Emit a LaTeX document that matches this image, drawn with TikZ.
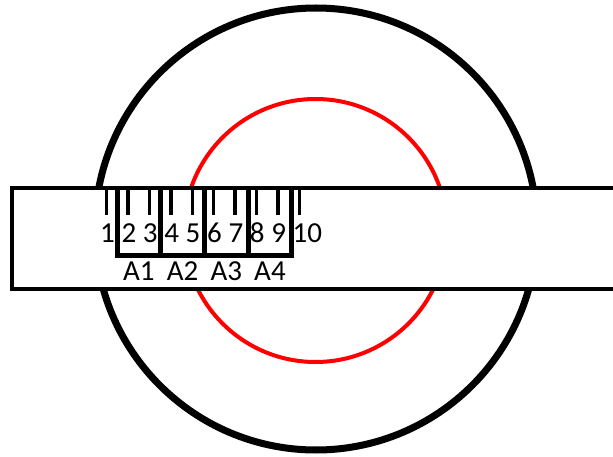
\documentclass[tikz,border=0pt]{standalone}
\usepackage{fontspec}
\setmainfont{Carlito}
\usetikzlibrary{positioning,calc}

\begin{document}
\begin{tikzpicture}[x=1pt, y=-1pt,
  ring/.style={draw, line width=7pt},
  inner ring/.style={draw=red, line width=4pt},
  bar/.style={draw, line width=4.5pt, fill=white},
  tickmark/.style={line width=3.5pt},
  bracket/.style={line width=5pt},
  num/.style={font=\fontsize{29}{29}\selectfont, inner sep=0pt}
]
\useasboundingbox (0,0) rectangle (613,457);
\clip (0,0) rectangle (613,457);
% circles behind the strip
\draw[ring] (316,229) circle (221pt);
\draw[inner ring] (315.5,230.5) circle (131.5pt);
% strip
\draw[bar] (12,188) rectangle (640,289);
% scale ticks and numbers
\foreach \i in {1,...,10} {
  \pgfmathsetmacro\tx{106.7+(\i-1)*21.4}
  \coordinate (t\i) at (\tx,188);
  \draw[tickmark] (t\i) -- ++(0,27);
  \node[num, anchor=west] (n\i) at (\tx-6.8,233) {\i};
}
% brackets A1..A4
\foreach \k in {0,...,4}
  \coordinate (e\k) at (117+43.7*\k,188);
\draw[bracket] (e0) |- ([yshift=-67pt]e4) -- (e4);
\foreach \k in {1,2,3}
  \draw[bracket] (e\k) -- ++(0,67);
\foreach \k [count=\j from 0] in {1,...,4}
  \node[num] (a\k) at ($(e\j)!0.5!(e\k)+(0,83)$) {A\k};
\end{tikzpicture}
\end{document}
